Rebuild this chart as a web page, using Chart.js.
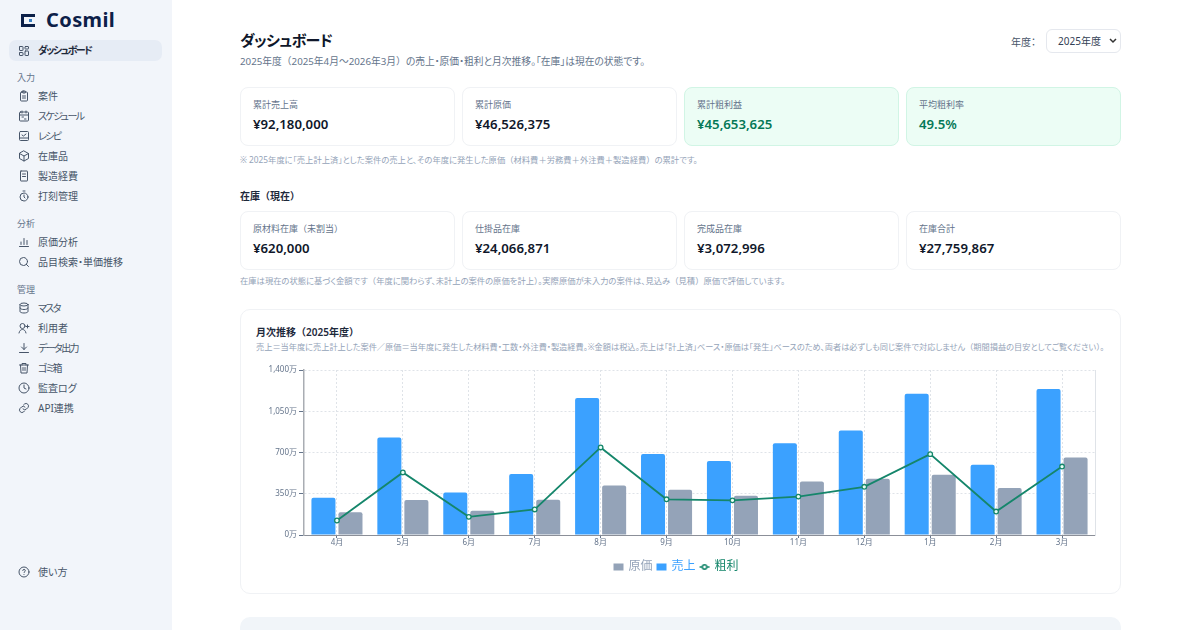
<!DOCTYPE html>
<html lang="ja">
<head>
<meta charset="utf-8">
<title>Cosmil ダッシュボード</title>
<script src="https://cdn.jsdelivr.net/npm/chart.js@4"></script>
<style>
html, body { margin: 0; padding: 0; }
body { width: 1200px; height: 630px; overflow: hidden; position: relative; background: #fff;
  font-family: "Noto Sans", "Noto Sans CJK JP", sans-serif; font-feature-settings: "palt"; color: #0f172a; }
i { font-style: normal; font-feature-settings: "palt" 0; }
.abs, .side, .card, .nav, .sec, .note { position: absolute; }
.side { left: 0; top: 0; width: 172px; height: 630px; background: #f2f5fa; }
.logo { position: absolute; left: 46px; top: 6px; font-size: 20px; font-weight: 700; color: #0c2048; letter-spacing: .4px; }
.active { position: absolute; left: 9px; top: 40px; width: 153px; height: 21px; background: #e6ecf5; border-radius: 7px; }
.nav { left: 38px; font-size: 10px; line-height: 14px; color: #475569; white-space: nowrap; }
.nav.k { letter-spacing: -1.6px; }
.nav.on { color: #1e293b; font-weight: 700; }
.sec { left: 17px; font-size: 9px; line-height: 12px; color: #64748b; }
.ic { position: absolute; left: 18px; width: 12px; height: 12px; fill: none; stroke: #475569; stroke-width: 2; stroke-linecap: round; stroke-linejoin: round; }
.card { box-sizing: border-box; width: 215px; height: 59px; background: #fff; border: 1px solid #f0f2f5; border-radius: 8px; }
.card.g { background: #ecfdf5; border-color: #d1f5e5; }
.card .l { position: absolute; left: 12px; top: 11px; font-size: 9px; line-height: 12px; color: #64748b; white-space: nowrap; }
.card .v { position: absolute; left: 12px; top: 26px; font-size: 13.2px; line-height: 20px; font-weight: 600; color: #0f172a; white-space: nowrap; }
.card.g .v { color: #047857; }
.note { left: 240px; font-size: 8.3px; line-height: 12px; color: #94a3b8; white-space: nowrap; }
.chartcard { position: absolute; box-sizing: border-box; left: 240px; top: 309px; width: 881px; height: 285px; border: 1px solid #f0f2f5; border-radius: 10px; }
canvas#c { position: absolute; left: 250px; top: 360px; }
</style>
</head>
<body>
<div class="side">
  <svg class="abs" style="left:20px;top:13px" width="16" height="15" viewBox="0 0 16 15"><path d="M1 1h14v3H4v7h11v3H1z" fill="#0c2048"/><rect x="9" y="6" width="3" height="3" fill="#3b82c4"/></svg>
  <div class="logo">Cosmil</div>
  <div class="active"></div>
  <svg class="ic" style="top:45px" viewBox="0 0 24 24"><rect x="3" y="3" width="7" height="8" rx="1"/><rect x="14" y="3" width="7" height="5" rx="1"/><rect x="14" y="12" width="7" height="9" rx="1"/><rect x="3" y="15" width="7" height="6" rx="1"/></svg>
  <div class="nav on k" style="top:43px">ダッシュボード</div>

  <div class="sec" style="top:72px">入力</div>
  <svg class="ic" style="top:90px" viewBox="0 0 24 24"><rect x="5" y="4" width="14" height="18" rx="2"/><rect x="9" y="2" width="6" height="4" rx="1"/><path d="M9 12h6M9 16h6"/></svg>
  <div class="nav" style="top:89px">案件</div>
  <svg class="ic" style="top:110px" viewBox="0 0 24 24"><rect x="3" y="4" width="18" height="18" rx="2"/><path d="M8 2v4M16 2v4M3 10h18M8 14h3M13 18h3"/></svg>
  <div class="nav k" style="top:109px">スケジュール</div>
  <svg class="ic" style="top:130px" viewBox="0 0 24 24"><rect x="3" y="3" width="18" height="18" rx="2"/><path d="M3 16h18M8 10l3 2 5-4"/></svg>
  <div class="nav k" style="top:129px">レシピ</div>
  <svg class="ic" style="top:150px" viewBox="0 0 24 24"><path d="M12 2l9 5v10l-9 5-9-5V7z"/><path d="M3 7l9 5 9-5M12 12v10"/></svg>
  <div class="nav" style="top:149px">在庫品</div>
  <svg class="ic" style="top:170px" viewBox="0 0 24 24"><rect x="5" y="2" width="14" height="20" rx="1"/><path d="M9 8h6M9 13h6"/></svg>
  <div class="nav" style="top:169px">製造経費</div>
  <svg class="ic" style="top:190px" viewBox="0 0 24 24"><circle cx="12" cy="14" r="8"/><path d="M10 2h4M12 10v4l2 2"/></svg>
  <div class="nav" style="top:189px">打刻管理</div>

  <div class="sec" style="top:218px">分析</div>
  <svg class="ic" style="top:236px" viewBox="0 0 24 24"><path d="M3 21h18M6 17v-5M12 17V5M18 17v-8"/></svg>
  <div class="nav" style="top:235px">原価分析</div>
  <svg class="ic" style="top:256px" viewBox="0 0 24 24"><circle cx="11" cy="11" r="8"/><path d="M21 21l-4.5-4.5"/></svg>
  <div class="nav" style="top:255px">品目検索・単価推移</div>

  <div class="sec" style="top:284px">管理</div>
  <svg class="ic" style="top:302px" viewBox="0 0 24 24"><ellipse cx="12" cy="5" rx="8" ry="3"/><path d="M4 5v14c0 1.7 3.6 3 8 3s8-1.300 8-3V5M4 12c0 1.700 3.600 3 8 3s8-1.300 8-3"/></svg>
  <div class="nav k" style="top:301px">マスタ</div>
  <svg class="ic" style="top:322px" viewBox="0 0 24 24"><circle cx="9" cy="8" r="5"/><path d="M2 22c1-5 4-7 7-7s6 2 7 7M19 6v6M16 9h6"/></svg>
  <div class="nav" style="top:321px">利用者</div>
  <svg class="ic" style="top:342px" viewBox="0 0 24 24"><path d="M12 3v12M7 10l5 5 5-5M3 21h18"/></svg>
  <div class="nav k" style="top:341px">データ出力</div>
  <svg class="ic" style="top:362px" viewBox="0 0 24 24"><path d="M3 6h18M8 6V3h8v3M5 6l1 16h12l1-16M10 11v6M14 11v6"/></svg>
  <div class="nav k" style="top:361px">ゴミ箱</div>
  <svg class="ic" style="top:382px" viewBox="0 0 24 24"><circle cx="12" cy="12" r="10"/><path d="M12 6v6l4 2"/></svg>
  <div class="nav" style="top:381px">監査ログ</div>
  <svg class="ic" style="top:402px" viewBox="0 0 24 24"><path d="M10 14a5 5 0 0 0 7 0l3-3a5 5 0 0 0-7-7l-2 2M14 10a5 5 0 0 0-7 0l-3 3a5 5 0 0 0 7 7l2-2"/></svg>
  <div class="nav" style="top:401px">API連携</div>

  <svg class="ic" style="top:566px" viewBox="0 0 24 24"><circle cx="12" cy="12" r="10"/><path d="M9.500 9a2.500 2.500 0 0 1 5 .5c0 1.700-2.500 2-2.500 3.500M12 17h.01"/></svg>
  <div class="nav" style="top:565px">使い方</div>
</div>

<div class="abs" style="left:240px;top:29px;font-size:15px;line-height:22px;font-weight:600;letter-spacing:-.6px;white-space:nowrap">ダッシュボード</div>
<div class="abs" style="left:240px;top:55px;font-size:9.750px;line-height:14px;color:#64748b;white-space:nowrap">2025年度<i>（</i>2025年4月～2026年3月<i>）</i>の売上・原価・粗利と月次推移。「在庫」は現在の状態です。</div>
<div class="abs" style="left:1011px;top:35px;font-size:10px;line-height:14px;color:#475569;white-space:nowrap">年度：</div>
<div class="abs" style="box-sizing:border-box;left:1046px;top:29px;width:75px;height:24px;border:1px solid #e5e8ee;border-radius:6px;background:#fff;font-size:10px;line-height:22px;color:#334155;padding-left:11px">2025年度
  <svg class="abs" style="left:62px;top:8px" width="8" height="6" viewBox="0 0 8 6"><path d="M1 1l3 3 3-3" fill="none" stroke="#333" stroke-width="1.500"/></svg>
</div>

<div class="card" style="left:240px;top:87px"><div class="l">累計売上高</div><div class="v">¥92,180,000</div></div>
<div class="card" style="left:462px;top:87px"><div class="l">累計原価</div><div class="v">¥46,526,375</div></div>
<div class="card g" style="left:684px;top:87px"><div class="l">累計粗利益</div><div class="v">¥45,653,625</div></div>
<div class="card g" style="left:906px;top:87px"><div class="l">平均粗利率</div><div class="v">49.5%</div></div>
<div class="note" style="top:154px">※ 2025年度に「売上計上済」とした案件の売上と、その年度に発生した原価<i>（</i>材料費＋労務費＋外注費＋製造経費<i>）</i>の累計です。</div>

<div class="abs" style="left:240px;top:189px;font-size:10px;line-height:14px;font-weight:600;color:#1e293b;white-space:nowrap">在庫<i>（</i>現在<i>）</i></div>
<div class="card" style="left:240px;top:211px"><div class="l">原材料在庫<i>（</i>未割当<i>）</i></div><div class="v">¥620,000</div></div>
<div class="card" style="left:462px;top:211px"><div class="l">仕掛品在庫</div><div class="v">¥24,066,871</div></div>
<div class="card" style="left:684px;top:211px"><div class="l">完成品在庫</div><div class="v">¥3,072,996</div></div>
<div class="card" style="left:906px;top:211px"><div class="l">在庫合計</div><div class="v">¥27,759,867</div></div>
<div class="note" style="top:275px">在庫は現在の状態に基づく金額です<i>（</i>年度に関わらず、未計上の案件の原価を計上<i>）</i>。実際原価が未入力の案件は、見込み<i>（</i>見積<i>）</i>原価で評価しています。</div>

<div class="chartcard"></div>
<div class="abs" style="left:256px;top:325px;font-size:10px;line-height:14px;font-weight:600;color:#1e293b;white-space:nowrap">月次推移<i>（</i>2025年度<i>）</i></div>
<div class="abs" style="left:256px;top:341px;font-size:8.200px;line-height:12px;color:#94a3b8;white-space:nowrap">売上＝当年度に売上計上した案件／原価＝当年度に発生した材料費・工数・外注費・製造経費。※金額は税込。売上は「計上済」ベース・原価は「発生」ベースのため、両者は必ずしも同じ案件で対応しません<i>（</i>期間損益の目安としてご覧ください<i>）</i>。</div>
<canvas id="c" width="862" height="223"></canvas>

<div class="abs" style="left:240px;top:617px;width:881px;height:30px;background:#f1f5f9;border-radius:10px"></div>

<script>
const months = ['4月', '5月', '6月', '7月', '8月', '9月', '10月', '11月', '12月', '1月', '2月', '3月'];
// 単位は万円
const sales = [316, 827, 360, 517, 1162, 688, 628, 779, 887, 1198, 597, 1238];
const cost = [194, 296, 206, 300, 419, 385, 334, 453, 478, 512, 398, 657];
const profit = [123, 531, 154, 217, 743, 303, 294, 326, 409, 686, 199, 581];
const yTicks = [0, 350, 700, 1050, 1400];
const legendOrder = ['原価', '売上', '粗利'];

const fontFamily = '"Noto Sans", "Noto Sans CJK JP", sans-serif';

// 凡例のマーカー
function legendMarker(color, isLine) {
  const m = document.createElement('canvas');
  m.width = 12;
  m.height = 10;
  const g = m.getContext('2d');
  if (isLine) {
    g.strokeStyle = color;
    g.lineWidth = 1.5;
    g.beginPath();
    g.moveTo(1, 5);
    g.lineTo(11, 5);
    g.stroke();
    g.fillStyle = '#fff';
    g.beginPath();
    g.arc(6, 5, 2.2, 0, Math.PI * 2);
    g.fill();
    g.stroke();
  } else {
    g.fillStyle = color;
    g.fillRect(1, 1.5, 10, 7);
  }
  return m;
}

new Chart('c', {
  data: {
    labels: months,
    datasets: [
      { type: 'bar', label: '売上', data: sales, backgroundColor: '#3ba1ff', order: 2,
        borderRadius: { topLeft: 2, topRight: 2 }, borderSkipped: 'bottom',
        categoryPercentage: 0.82, barPercentage: 0.889 },
      { type: 'bar', label: '原価', data: cost, backgroundColor: '#94a3b8', order: 2,
        borderRadius: { topLeft: 2, topRight: 2 }, borderSkipped: 'bottom',
        categoryPercentage: 0.82, barPercentage: 0.889 },
      { type: 'line', label: '粗利', data: profit, borderColor: '#15866b', borderWidth: 1.8, tension: 0,
        pointRadius: 2.3, pointBorderWidth: 1.3, pointBackgroundColor: '#e8fff6', pointBorderColor: '#15866b', order: 1 }
    ]
  },
  options: {
    responsive: false,
    animation: false,
    layout: { padding: { left: 8, right: 17, top: 10, bottom: 0 } },
    scales: {
      x: {
        afterFit: function(s) { s.height = 21; },
        grid: { offset: false, color: '#dfe3e8', tickColor: '#64748b', tickLength: 3 },
        border: { dash: [2, 2], color: '#8b8f98', width: 1 },
        ticks: { color: '#64748b', font: { size: 8, family: fontFamily }, padding: 0, autoSkip: false, maxRotation: 0 }
      },
      y: {
        min: 0,
        max: 1400,
        afterFit: function(s) { s.width = 46; },
        afterBuildTicks: function(s) { s.ticks = yTicks.map(v => ({ value: v })); },
        grid: { color: '#dfe3e8', tickColor: '#64748b', tickLength: 5 },
        border: { dash: [2, 2], color: '#a9adb3', width: 1.5 },
        ticks: { color: '#64748b', font: { size: 8, family: fontFamily }, padding: 2,
          callback: function(v) { return v.toLocaleString('en-US') + '万'; } }
      },
      yEdge: {
        position: 'right',
        min: 0,
        max: 1400,
        afterFit: function(s) { s.width = 0; },
        grid: { display: false },
        border: { dash: [2, 2], color: '#dfe3e8', width: 1 },
        ticks: { display: false }
      }
    },
    plugins: {
      tooltip: { enabled: false },
      legend: {
        position: 'bottom',
        labels: {
          usePointStyle: true,
          boxWidth: 8,
          boxHeight: 8,
          padding: 5,
          font: { size: 12, family: fontFamily },
          sort: function(a, b) { return legendOrder.indexOf(a.text) - legendOrder.indexOf(b.text); },
          generateLabels: function(chart) {
            return chart.data.datasets.map(function(d, i) {
              const color = d.type === 'line' ? d.borderColor : d.backgroundColor;
              return {
                text: d.label,
                fontColor: color,
                datasetIndex: i,
                lineWidth: 0,
                pointStyle: legendMarker(color, d.type === 'line')
              };
            });
          }
        }
      }
    }
  }
});
</script>
</body>
</html>
